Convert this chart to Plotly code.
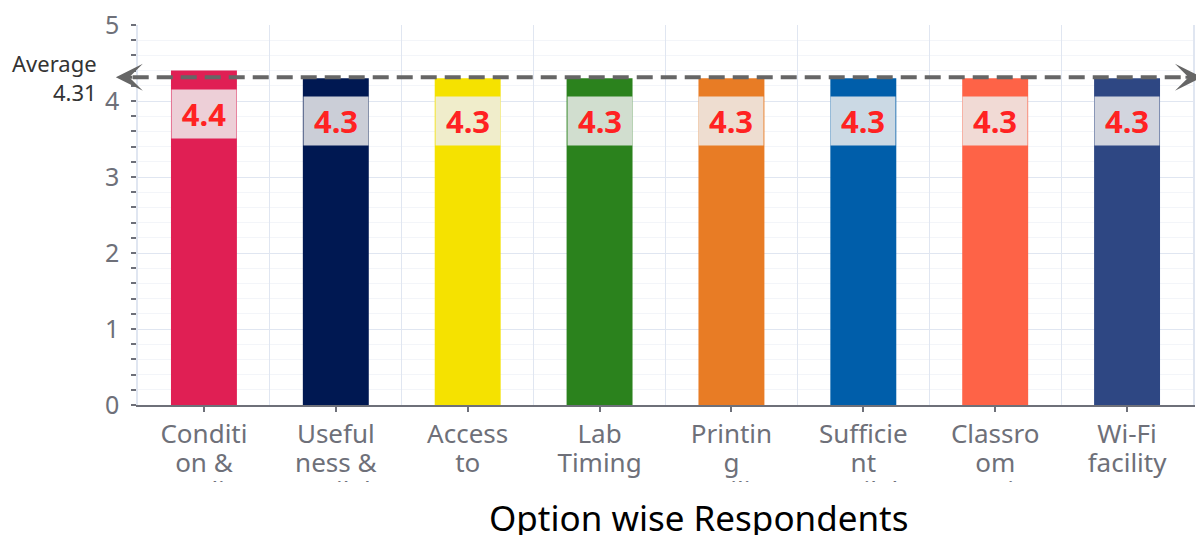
import plotly.graph_objects as go

categories = ["Condition & Quality", "Usefulness & Availability", "Access to Computers", "Lab Timing",
              "Printing Facility", "Sufficient Availability", "Classroom Furniture", "Wi-Fi facility"]
values = [4.4, 4.3, 4.3, 4.3, 4.3, 4.3, 4.3, 4.3]
line1 = ["Conditi", "Useful", "Access", "Lab", "Printin", "Sufficie", "Classro", "Wi-Fi"]
line2 = ["on &", "ness &", "to", "Timing", "g", "nt", "om", "facility"]
line3 = ["Quality", "Availab", "Compute", "", "Facility", "Availab", "Furnitu", ""]
colors = ["#e01f54", "#001852", "#f5e200", "#2b821d", "#e87c25", "#005eaa", "#fe6347", "#2e4783"]
y_ticks = [0, 1, 2, 3, 4, 5]

average = sum(values) / len(values)
FONT = "Noto Sans"
GREY = "#6e7079"
GRID = "#e0e6f1"
n = len(categories)

fig = go.Figure()
fig.add_trace(go.Bar(x=categories, y=values, marker=dict(color=colors, line=dict(width=0)),
                     width=0.5, showlegend=False, hoverinfo="x+y"))
# invisible carriers so the overlay label axes get drawn
for ax in ["x2", "x3", "x4"]:
    fig.add_trace(go.Scatter(x=categories, y=values, xaxis=ax, mode="markers",
                             marker=dict(opacity=0), showlegend=False, hoverinfo="skip"))

ann = []
for c, v in zip(categories, values):
    ann.append(dict(x=c, y=v, xref="x", yref="y", yanchor="top", yshift=-18,
                    text=f"<b>{v:.1f}</b>", showarrow=False, width=64, height=48, borderpad=0,
                    bgcolor="rgba(238,238,238,0.85)",
                    font=dict(family=FONT, size=31, color="#ff2222")))

# average markline arrowheads and label
ann.append(dict(x=-0.021, y=average, xref="paper", yref="y", ax=18, ay=0, text="",
                showarrow=True, arrowhead=3, arrowsize=1.5, arrowwidth=3, arrowcolor="#666666"))
ann.append(dict(x=1.0085, y=average, xref="paper", yref="y", ax=-18, ay=0, text="",
                showarrow=True, arrowhead=3, arrowsize=1.5, arrowwidth=3, arrowcolor="#666666"))
ann.append(dict(x=-0.037, y=average, xref="paper", yref="y", xanchor="right", yanchor="middle",
                text=f"Average<br>{average:.2f}", align="right", showarrow=False,
                font=dict(family=FONT, size=22, color="#333333")))
ann.append(dict(x=0.531, y=-0.295, xref="paper", yref="paper", xanchor="center", yanchor="middle",
                text="Option wise Respondents", showarrow=False,
                font=dict(family=FONT, size=35, color="#000000")))

shapes = [
    dict(type="line", xref="paper", yref="y", x0=-0.005, x1=0.995, y0=average, y1=average,
         line=dict(color="#666666", width=4, dash="16px,8px"), layer="above"),
    # clips the overflowing third line of the category labels
    dict(type="rect", xref="paper", yref="paper", x0=-0.2, x1=1.1, y0=-0.2026, y1=-0.3,
         fillcolor="white", line=dict(width=0), layer="above"),
]

tickfont = dict(family=FONT, size=26, color=GREY)
common = dict(overlaying="x", anchor="y", side="bottom", type="category", automargin=False,
              categoryorder="array", categoryarray=categories, range=[-0.5, n - 0.5],
              tickmode="array", tickvals=categories, tickfont=tickfont,
              showgrid=False, zeroline=False, showline=False)
fig.update_layout(
    width=1196, height=527,
    margin=dict(l=130, r=11, t=17, b=130, autoexpand=False),
    plot_bgcolor="white", paper_bgcolor="white",
    annotations=ann, shapes=shapes,
    xaxis=dict(type="category", categoryorder="array", categoryarray=categories, automargin=False,
               range=[-0.5, n - 0.5], tickson="boundaries", showgrid=True, gridcolor=GRID,
               gridwidth=1, ticks="", showticklabels=False, showline=True, linecolor=GREY,
               linewidth=1.5, mirror=False),
    xaxis2=dict(common, ticktext=line1, ticks="outside", ticklen=6, tickcolor=GREY, tickwidth=1.5),
    xaxis3=dict(common, ticktext=line2, ticks="", ticklabelstandoff=40),
    xaxis4=dict(common, ticktext=line3, ticks="", ticklabelstandoff=68),
    yaxis=dict(range=[0, 5], tickvals=y_ticks, ticks="", tickfont=dict(family=FONT, size=25, color=GREY),
               ticklabeloverflow="allow", automargin=False,
               showgrid=True, gridcolor=GRID, gridwidth=1, zeroline=False,
               showline=True, linecolor=GRID, linewidth=1.5, mirror=True,
               ticklabelstandoff=12,
               minor=dict(dtick=0.2, ticks="outside", ticklen=5, tickcolor=GREY, tickwidth=1.5,
                          showgrid=True, gridcolor="#f3f5f9", gridwidth=1)),
)

fig.write_html("out.html")
